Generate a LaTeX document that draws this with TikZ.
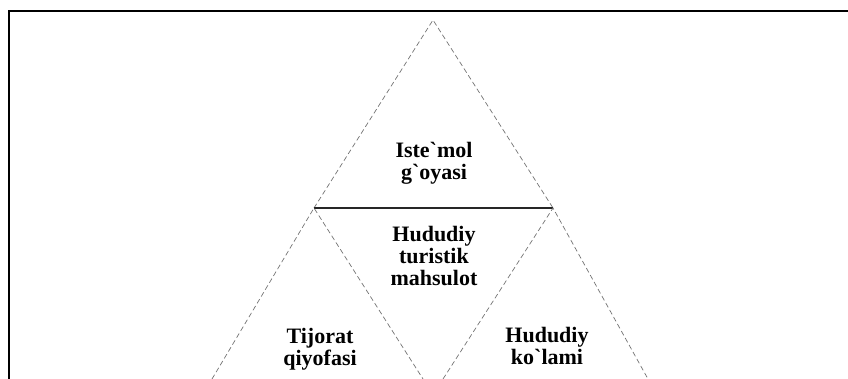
\documentclass[tikz,border=0pt]{standalone}
\usepackage{fontspec}
\setmainfont{Liberation Serif}
\begin{document}
\begin{tikzpicture}[x=1pt,y=-1pt,
  frameline/.style={line width=1.3pt,black},
  dashline/.style={line width=0.7pt,draw=black!55,dash pattern=on 5pt off 3pt},
  baseline/.style={line width=1.2pt,black!85},
  lbl/.style={align=center,inner sep=0pt,font=\fontsize{22}{22}\selectfont\bfseries}]
\useasboundingbox (0,0) rectangle (848,379);
% frame (top and left only)
\coordinate (fbl) at (9,379);
\coordinate (ftl) at (9,11);
\coordinate (ftr) at (848,11);
\draw[frameline] (fbl) -- (ftl) -- (ftr);
% vertices
\coordinate (apex) at (433,20);
\coordinate (L) at (314,208);
\coordinate (R) at (553,208);
\coordinate (Lout) at (212,379);
\coordinate (Lin) at (423,379);
\coordinate (Rin) at (443,379);
\coordinate (Rout) at (648,379);
\draw[dashline] (L) -- (apex) -- (R);
\draw[baseline] (L) -- (R);
\draw[dashline] (Lout) -- (L) -- (Lin);
\draw[dashline] (Rin) -- (R) -- (Rout);
% labels
\node[lbl] (top) at (434,163.4) {Iste\textasciigrave mol\\g\textasciigrave oyasi};
\node[lbl] (mid) at (434,256.5) {Hududiy\\turistik\\mahsulot};
\node[lbl] (left) at (320,348.9) {Tijorat\\qiyofasi};
\node[lbl] (right) at (547,345.5) {Hududiy\\ko\textasciigrave lami};
\end{tikzpicture}
\end{document}
